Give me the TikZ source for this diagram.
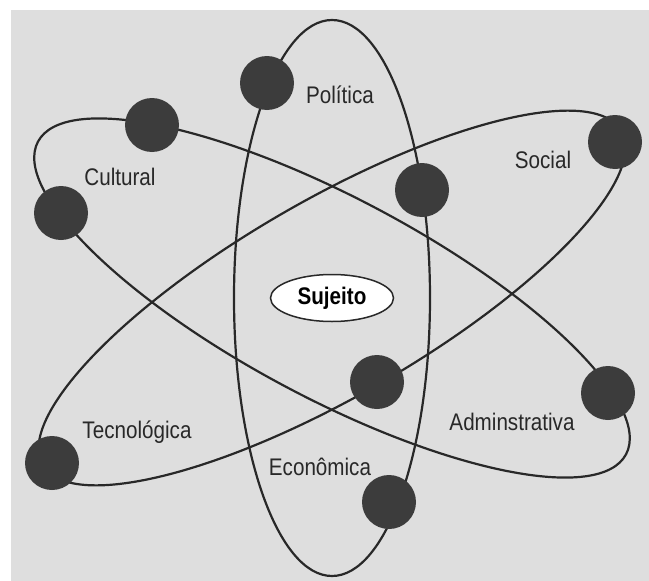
\documentclass[tikz,border=0pt]{standalone}
\usepackage{fontspec}
\setmainfont{Liberation Sans}
\newfontfamily\labelfont[FakeStretch=0.86]{Liberation Sans}
\usepackage{tikz}
\definecolor{paper}{RGB}{222,222,222}
\definecolor{ink}{RGB}{40,40,40}
\definecolor{dotgray}{RGB}{60,60,60}
\tikzset{
  orbit/.style={draw=ink, line width=2.2pt},
  dot/.style={circle, fill=dotgray, minimum size=54pt, inner sep=0pt},
  dimension/.style={text=ink, font=\labelfont\fontsize{24}{27}\selectfont},
  subject/.style={ellipse, draw=ink, line width=1.5pt, fill=white,
    minimum width=123pt, minimum height=47pt, inner sep=0pt,
    font=\labelfont\bfseries\fontsize{24}{27}\selectfont}
}
\usetikzlibrary{shapes.geometric}

\begin{document}
\begin{tikzpicture}[x=1pt, y=-1pt]
    \useasboundingbox (0,0) rectangle (649,581);
    \fill[white] (0,0) rectangle (649,581);
    \fill[paper] (11,10) rectangle (649,581);

    \coordinate (nucleus) at (332,298);
    \draw[orbit] (nucleus) ellipse [x radius=98pt, y radius=278pt];
    \draw[orbit, rotate around={-28:(nucleus)}] (nucleus) ellipse [x radius=333pt, y radius=100pt];
    \draw[orbit, rotate around={30:(nucleus)}] (nucleus) ellipse [x radius=334pt, y radius=98pt];

    \node (politica dot) [dot] at (267,83) {};
    \node (upper dot) [dot] at (422,190) {};
    \node (economica dot) [dot] at (389,502) {};
    \node (cultural dot) [dot] at (152,125) {};
    \node (left dot) [dot] at (61,213) {};
    \node (adm dot) [dot] at (608,393) {};
    \node (social dot) [dot] at (615,142) {};
    \node (tecno dot) [dot] at (52,463) {};
    \node (lower dot) [dot] at (377,382) {};

    \node (politica) [dimension] at (340,95) {Política};
    \node (cultural) [dimension] at (120,177) {Cultural};
    \node (social) [dimension] at (543,160) {Social};
    \node (tecnologica) [dimension] at (137,432) {Tecnológica};
    \node (economica) [dimension] at (320,467) {Econômica};
    \node (adm) [dimension] at (512,422) {Adminstrativa};

    \node (sujeito) [subject] at (nucleus) {Sujeito};
\end{tikzpicture}
\end{document}
